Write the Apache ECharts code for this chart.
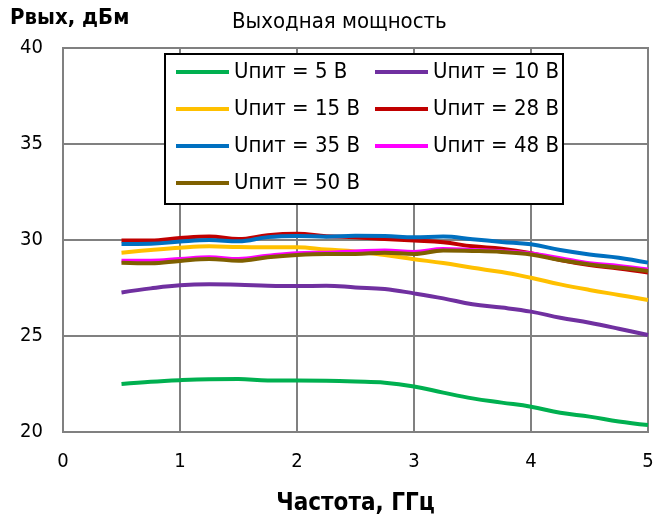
<!DOCTYPE html>
<html>
<head>
<meta charset="utf-8">
<script src="https://cdn.jsdelivr.net/npm/echarts@6/dist/echarts.min.js"></script>
<style>html,body{margin:0;padding:0;background:#fff}#c{width:664px;height:518px}</style>
</head>
<body>
<div id="c"></div>
<script>
var FONT = "'Liberation Sans Narrow','Arial Narrow','DejaVu Sans Condensed','Liberation Sans',sans-serif";
var freq = [0.5,0.75,1,1.25,1.5,1.75,2,2.25,2.5,2.75,3,3.25,3.5,3.75,4,4.25,4.5,4.75,5];
var u5  = [22.5,22.62,22.7,22.75,22.76,22.68,22.68,22.67,22.63,22.57,22.37,22.05,21.75,21.53,21.32,21.0,20.8,20.55,20.36];
var u10 = [27.27,27.48,27.64,27.69,27.67,27.62,27.6,27.62,27.53,27.45,27.22,26.96,26.65,26.48,26.27,25.95,25.69,25.38,25.05];
var u15 = [29.34,29.48,29.6,29.67,29.63,29.62,29.62,29.5,29.4,29.22,29.0,28.8,28.55,28.33,28.03,27.69,27.4,27.14,26.88];
var u28 = [29.97,29.97,30.1,30.18,30.05,30.25,30.32,30.2,30.14,30.05,29.97,29.88,29.67,29.55,29.31,28.96,28.7,28.52,28.31];
var u35 = [29.79,29.8,29.92,30.0,29.93,30.15,30.21,30.17,30.22,30.21,30.14,30.18,30.04,29.9,29.78,29.48,29.25,29.08,28.82];
var u48 = [28.92,28.92,29.01,29.1,29.01,29.18,29.31,29.34,29.4,29.45,29.38,29.53,29.48,29.42,29.3,29.05,28.79,28.65,28.47];
var u50 = [28.82,28.79,28.91,29.01,28.92,29.1,29.22,29.27,29.27,29.34,29.27,29.45,29.43,29.38,29.25,28.96,28.73,28.57,28.39];
var names = ['Uпит = 5 В','Uпит = 10 В','Uпит = 15 В','Uпит = 28 В','Uпит = 35 В','Uпит = 48 В','Uпит = 50 В'];
var colors = ['#00B050','#7030A0','#FFC000','#C00000','#0070C0','#FF00FF','#7F6000'];
var values = [u5,u10,u15,u28,u35,u48,u50];
var xTicks = [0,1,2,3,4,5];
var yTicks = [20,25,30,35,40];

function pairs(v){ return freq.map(function(f,i){ return [f, v[i]]; }); }

var chart = echarts.init(document.getElementById('c'), null, {renderer:'canvas'});
var legendCommon = {
  orient:'vertical', padding:0, itemWidth:53, itemHeight:4, itemGap:13, icon:'rect',
  textStyle:{fontFamily:FONT, fontSize:22, lineHeight:24, color:'#000'}, z:10, selectedMode:false
};
chart.setOption({
  animation:false,
  color: colors,
  title:[
    {text:'Выходная мощность', left:232, top:11, padding:0, textStyle:{fontFamily:FONT, fontSize:22, fontWeight:'normal', color:'#000'}},
    {text:'Рвых, дБм', left:10, top:7, padding:0, textStyle:{fontFamily:FONT, fontSize:22, fontWeight:'bold', color:'#000'}}
  ],
  grid:{left:63, right:16, top:48, bottom:86, outerBoundsMode:'none', containLabel:false,
    show:true, borderColor:'#808080', borderWidth:2, backgroundColor:'transparent'},
  graphic:[{type:'rect', shape:{x:165, y:54, width:398, height:150}, style:{fill:'#fff', stroke:'#000', lineWidth:2}, z:9}],
  legend:[
    Object.assign({}, legendCommon, {left:176, top:60, data:[names[0],names[2],names[4],names[6]]}),
    Object.assign({}, legendCommon, {left:375, top:60, data:[names[1],names[3],names[5]]})
  ],
  xAxis:{type:'value', min:xTicks[0], max:xTicks[xTicks.length-1], interval:1,
    name:'Частота, ГГц', nameLocation:'middle', nameGap:60,
    nameTextStyle:{fontFamily:FONT, fontSize:24, fontWeight:'bold', color:'#000'},
    axisLine:{show:true, lineStyle:{color:'#808080', width:2}}, axisTick:{show:false},
    axisLabel:{fontFamily:FONT, fontSize:20, color:'#000', margin:20},
    splitLine:{show:true, lineStyle:{color:'#808080', width:2}}},
  yAxis:{type:'value', min:yTicks[0], max:yTicks[yTicks.length-1], interval:5,
    axisLine:{show:true, lineStyle:{color:'#808080', width:2}}, axisTick:{show:false},
    axisLabel:{fontFamily:FONT, fontSize:20, color:'#000', margin:20},
    splitLine:{show:true, lineStyle:{color:'#808080', width:2}}},
  series: values.map(function(v,i){
    return {name:names[i], type:'line', data:pairs(v), showSymbol:false, smooth:0.4,
      lineStyle:{width:4, color:colors[i]}, itemStyle:{color:colors[i]}, z:2};
  })
});
</script>
</body>
</html>
